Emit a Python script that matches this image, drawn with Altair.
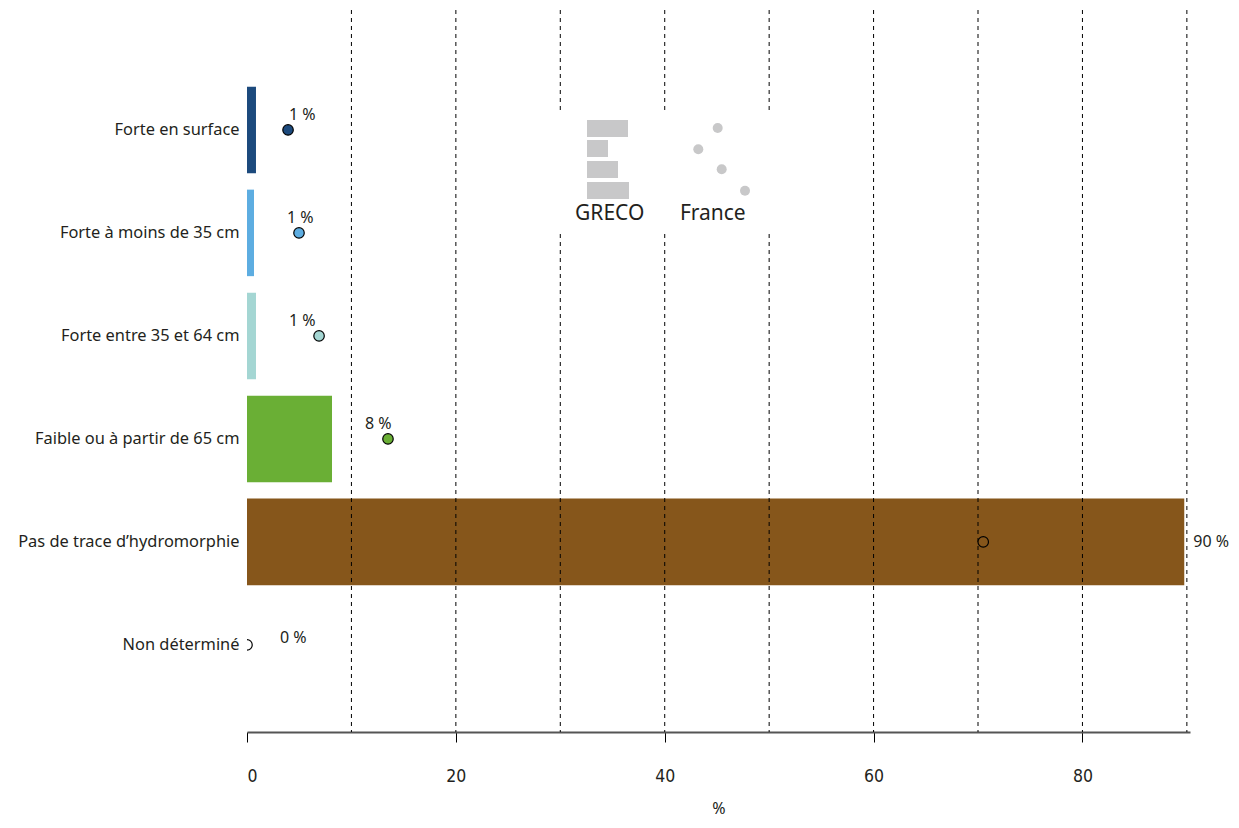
import altair as alt
import pandas as pd

# ---------------- data ----------------
categories = [
    "Forte en surface",
    "Forte à moins de 35 cm",
    "Forte entre 35 et 64 cm",
    "Faible ou à partir de 65 cm",
    "Pas de trace d’hydromorphie",
    "Non déterminé",
]
greco = [0.86, 0.67, 0.86, 8.14, 89.75, 0.0]
france = [3.93, 4.98, 6.9, 13.5, 70.5, 0.0]
labels = ["1 %", "1 %", "1 %", "8 %", "90 %", "0 %"]
colors = ["#1c4a7d", "#5dade1", "#a4d6d3", "#6aaf35", "#86561b", "#ffffff"]
grid_values = [10, 20, 30, 40, 50, 60, 70, 80, 90]
tick_values = [0, 20, 40, 60, 80]
legend_names = ["GRECO", "France"]

df = pd.DataFrame({"cat": categories, "greco": greco, "france": france, "label": labels})
grid_df = pd.DataFrame({"v": grid_values})

FONT = "Noto Sans"
TXT = "#231f20"
W, H = 943, 722

xscale = alt.Scale(domain=[0, 90.3], nice=False, zero=True)
yscale = alt.Scale(domain=categories, paddingInner=0.16, paddingOuter=0.585, align=0.636)
cscale = alt.Scale(domain=categories, range=colors)

xaxis = alt.Axis(
    values=tick_values, grid=False, title="%", domainColor="#555555", domainWidth=2,
    tickColor="#000000", tickSize=10, tickWidth=1,
    labelFont="Liberation Sans Narrow, DejaVu Sans Condensed", labelFontSize=17.5,
    labelColor=TXT, labelPadding=25, titleFont=FONT, titleFontSize=16,
    titleFontWeight="normal", titleColor=TXT, titlePadding=16,
)
yaxis = alt.Axis(
    title=None, ticks=False, domain=False, grid=False, labelFont=FONT,
    labelFontSize=16.4, labelColor=TXT, labelPadding=8, labelLimit=400,
)

base = alt.Chart(df)
Y = alt.Y("cat:N", sort=categories, scale=yscale, axis=yaxis)

bars = base.mark_bar().encode(
    y=Y,
    x=alt.X("greco:Q", scale=xscale, axis=xaxis),
    color=alt.Color("cat:N", scale=cscale, legend=None),
)

grid = alt.Chart(grid_df).mark_rule(color="#000000", strokeWidth=1, strokeDash=[4, 4]).encode(
    x=alt.X("v:Q", scale=xscale)
)

# ---- legend (decorative, pixel layout inside plot area) ----
leg_box = pd.DataFrame({"x": [301], "x2": [535], "y": [104], "y2": [221]})
leg_bars = pd.DataFrame({
    "x": [340, 340, 340, 340],
    "x2": [381, 361, 371, 382],
    "y": [110, 130, 151, 172],
    "y2": [127, 147, 168, 189],
})
leg_dots = pd.DataFrame({"x": [470.7, 451.3, 474.7, 498.0], "y": [118, 139.3, 159.3, 180.7]})
leg_text = pd.DataFrame({"x": [362.7, 465.8], "y": [204, 204], "t": legend_names})

box = alt.Chart(leg_box).mark_rect(color="white").encode(
    x=alt.X("x:Q", scale=None), x2="x2:Q", y=alt.Y("y:Q", scale=None), y2="y2:Q"
)
lbars = alt.Chart(leg_bars).mark_rect(color="#c8c8c9").encode(
    x=alt.X("x:Q", scale=None), x2="x2:Q", y=alt.Y("y:Q", scale=None), y2="y2:Q"
)
ldots = alt.Chart(leg_dots).mark_circle(color="#c8c8c9", size=100, opacity=1).encode(
    x=alt.X("x:Q", scale=None), y=alt.Y("y:Q", scale=None)
)
ltext = alt.Chart(leg_text).mark_text(font=FONT, fontSize=21, color=TXT, align="center",
                                      baseline="middle").encode(
    x=alt.X("x:Q", scale=None), y=alt.Y("y:Q", scale=None), text="t:N"
)

points = base.mark_circle(size=110, opacity=1, stroke="#000000", strokeWidth=1.2, clip=True).encode(
    y=Y,
    x=alt.X("france:Q", scale=xscale),
    color=alt.Color("cat:N", scale=cscale, legend=None),
)

small = base.transform_filter(
    alt.FieldOneOfPredicate(field="cat", oneOf=categories[:4])
).mark_text(font=FONT, fontSize=16, color=TXT, align="left", baseline="middle", dx=33, dy=-15).encode(
    y=Y, x=alt.X("greco:Q", scale=xscale), text="label:N"
)
nd = base.transform_filter(
    alt.FieldEqualPredicate(field="cat", equal=categories[5])
).mark_text(font=FONT, fontSize=16, color=TXT, align="left", baseline="middle", dx=33, dy=-7).encode(
    y=Y, x=alt.X("greco:Q", scale=xscale), text="label:N"
)
big = base.transform_filter(
    alt.FieldEqualPredicate(field="cat", equal=categories[4])
).mark_text(font=FONT, fontSize=16, color=TXT, align="left", baseline="middle", dx=9).encode(
    y=Y, x=alt.X("greco:Q", scale=xscale), text="label:N"
)

chart = alt.layer(bars, grid, box, lbars, ldots, ltext, points, small, nd, big).properties(
    width=W, height=H,
    background="white",
    autosize=alt.AutoSizeParams(type="none"),
    padding={"left": 239, "top": 2, "right": 40, "bottom": 86},
).configure_view(stroke=None)

chart.save("out.html", embed_options={"renderer": "svg", "actions": False})
